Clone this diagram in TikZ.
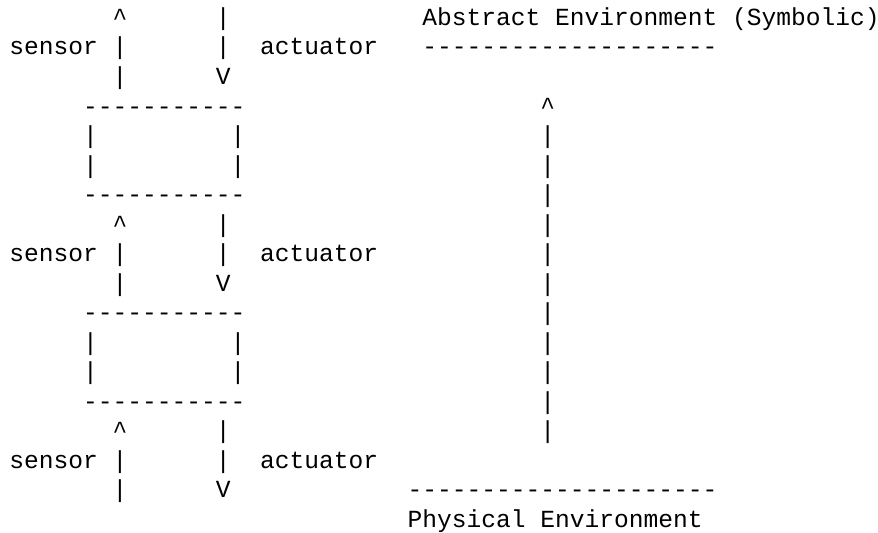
\documentclass[tikz,border=0pt]{standalone}
\usepackage{fontspec}
\setmonofont{Liberation Mono}
\newcommand{\dashrow}[1]{\foreach \i in {1,...,#1}{-\kern0pt}}
\begin{document}
\begin{tikzpicture}[x=14.75pt,y=-29.5pt,
  chr/.style={anchor=base west,inner sep=0pt,outer sep=0pt,text=black,
    font=\ttfamily\fontsize{24.58pt}{29.5pt}\selectfont}]
\fill[white] (-0.6373,-0.8644) rectangle (58.889,17.2034);
\useasboundingbox (-0.6373,-0.8644) rectangle (58.889,17.2034);
% three sensor/actuator interfaces
\foreach \k in {0,1,2}{
  \node[chr] (sensup\k)   at (7,{7*\k})    {\textasciicircum};
  \node[chr] (acttop\k)   at (14,{7*\k})   {|};
  \node[chr] (sensor\k)   at (0,{7*\k+1})  {sensor};
  \node[chr] (sensmid\k)  at (7,{7*\k+1})  {|};
  \node[chr] (actmid\k)   at (14,{7*\k+1}) {|};
  \node[chr] (actuator\k) at (17,{7*\k+1}) {actuator};
  \node[chr] (sensbot\k)  at (7,{7*\k+2})  {|};
  \node[chr] (actdown\k)  at (14,{7*\k+2}) {V};
}
% two boxes
\foreach \k in {0,1}{
  \node[chr] (boxtop\k)  at (5,{7*\k+3})  {\dashrow{11}};
  \node[chr] (boxla\k)   at (5,{7*\k+4})  {|};
  \node[chr] (boxra\k)   at (15,{7*\k+4}) {|};
  \node[chr] (boxlb\k)   at (5,{7*\k+5})  {|};
  \node[chr] (boxrb\k)   at (15,{7*\k+5}) {|};
  \node[chr] (boxbot\k)  at (5,{7*\k+6})  {\dashrow{11}};
}
% environments
\node[chr] (abstract) at (28,0) {Abstract Environment (Symbolic)};
\node[chr] (absline)  at (28,1) {\dashrow{20}};
\node[chr] (envup)    at (36,3) {\textasciicircum};
\foreach \r in {4,...,14}{
  \node[chr] (envbar\r) at (36,\r) {|};
}
\node[chr] (physline) at (27,16) {\dashrow{21}};
\node[chr] (physical) at (27,17) {Physical Environment};
\end{tikzpicture}
\end{document}
